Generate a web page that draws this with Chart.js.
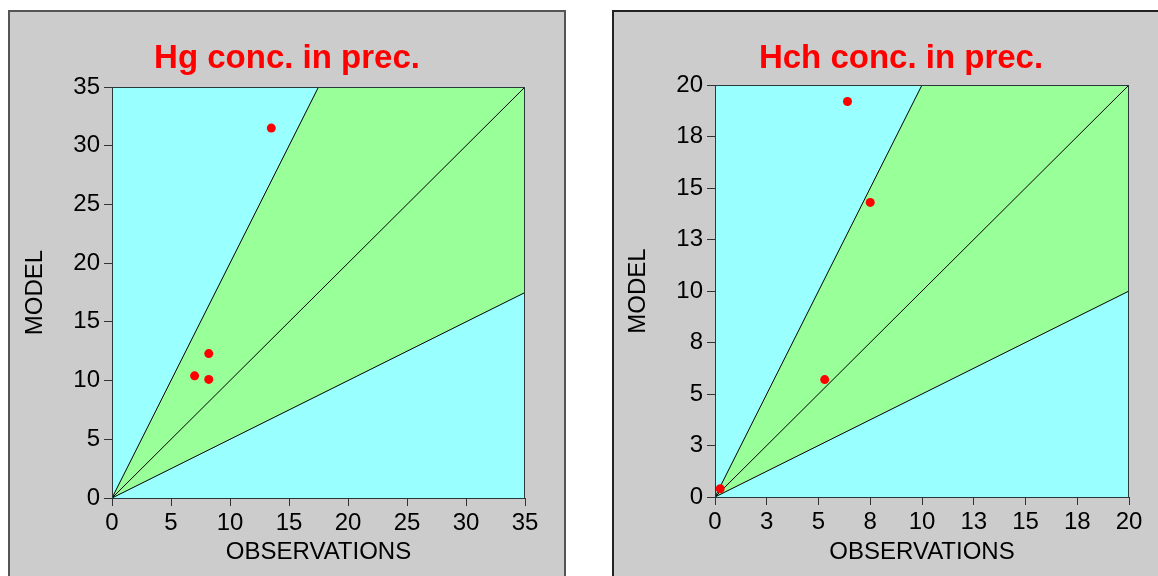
<!DOCTYPE html>
<html>
<head>
<meta charset="utf-8">
<script src="https://cdn.jsdelivr.net/npm/chart.js@4.4.0/dist/chart.umd.min.js"></script>
<style>
body { margin: 0; background: #fff; overflow: hidden; }
.panel { position: absolute; top: 10px; background: #cccccc; border: 2px solid #555; border-bottom: none; }
#p1 { left: 8px; width: 554px; height: 580px; }
#p2 { left: 612px; width: 574px; height: 580px; border-color: #222; }
canvas { display: block; }
</style>
</head>
<body>
<div class="panel" id="p1"><canvas id="hg" width="554" height="564"></canvas></div>
<div class="panel" id="p2"><canvas id="hch" width="574" height="564"></canvas></div>
<script>
// Hg panel
const hgObs = [13.5, 8.2, 7.0, 8.2];
const hgModel = [31.5, 12.3, 10.4, 10.1];
const hgTicks = ['0', '5', '10', '15', '20', '25', '30', '35'];
// Hch panel
const hchObs = [6.4, 7.5, 5.3, 0.25];
const hchModel = [19.2, 14.3, 5.7, 0.4];
const hchTicks = ['0', '3', '5', '8', '10', '13', '15', '18', '20'];

// factor-of-two lines and 1:1
const ratios = [2, 1, 0.5];

var font = "'Liberation Sans', Arial, sans-serif";

// line y = r*x from origin to the edge of a square plot of size max
function ratioLine(r, max) {
    if (r >= 1) return [{x: 0, y: 0}, {x: max / r, y: max}];
    return [{x: 0, y: 0}, {x: max, y: max * r}];
}

var frame = {
    id: 'frame',
    beforeDatasetsDraw: function(chart) {
        var a = chart.chartArea, ctx = chart.ctx;
        ctx.save();
        ctx.fillStyle = '#99ffff';
        ctx.fillRect(a.left, a.top, a.right - a.left, a.bottom - a.top);
        ctx.restore();
    },
    afterDatasetsDraw: function(chart) {
        var a = chart.chartArea, ctx = chart.ctx;
        ctx.save();
        ctx.strokeStyle = '#2a3a3a';
        ctx.lineWidth = 1;
        ctx.strokeRect(a.left + 0.5, a.top + 0.5, a.right - a.left - 1, a.bottom - a.top);
        ctx.restore();
    }
};

function makeChart(id, title, obs, model, max, step, labels, lay) {
    var top = ratioLine(ratios[0], max);
    top.push({x: max, y: max});
    var datasets = [{
        data: obs.map(function(v, i) { return {x: v, y: model[i]}; }),
        backgroundColor: '#ff0000',
        borderColor: '#ff0000',
        pointRadius: 4.5,
        pointBorderWidth: 0,
        showLine: false,
        order: 0
    }];
    ratios.forEach(function(r) {
        datasets.push({
            data: ratioLine(r, max),
            showLine: true,
            borderColor: '#000',
            borderWidth: 1,
            pointRadius: 0,
            order: 1
        });
    });
    // green band = area under upper line, then cyan over area under lower line
    datasets.push({
        data: ratioLine(ratios[2], max),
        showLine: true,
        borderWidth: 0,
        pointRadius: 0,
        fill: 'start',
        backgroundColor: '#99ffff',
        order: 2
    });
    datasets.push({
        data: top,
        showLine: true,
        borderWidth: 0,
        pointRadius: 0,
        fill: 'start',
        backgroundColor: '#99ff99',
        order: 3
    });

    return new Chart(id, {
        type: 'scatter',
        data: { datasets: datasets },
        plugins: [frame],
        options: {
            responsive: false,
            animation: false,
            events: [],
            // equal side padding keeps the title centred on the panel
            layout: { padding: { left: lay.side, right: lay.side, top: 0, bottom: 0 } },
            plugins: {
                legend: { display: false },
                tooltip: { enabled: false },
                title: {
                    display: true,
                    text: title,
                    color: '#ff0000',
                    font: { family: font, size: 33, weight: 'bold' },
                    padding: { top: 27, bottom: lay.titleBottom }
                }
            },
            scales: {
                x: {
                    type: 'linear',
                    min: 0, max: max,
                    afterFit: function(s) { s.height = lay.xHeight; },
                    ticks: {
                        stepSize: step,
                        color: '#000',
                        padding: 3,
                        maxRotation: 0,
                        font: { family: font, size: 24 },
                        callback: function(v, i) { return labels[i]; }
                    },
                    grid: { drawOnChartArea: false, tickLength: 8, tickColor: '#333' },
                    border: { display: false },
                    title: {
                        display: true,
                        text: 'OBSERVATIONS',
                        color: '#000',
                        font: { family: font, size: 24 },
                        padding: { top: 0, bottom: 9 }
                    }
                },
                y: {
                    type: 'linear',
                    min: 0, max: max,
                    afterFit: function(s) { s.width = lay.yWidth; },
                    ticks: {
                        stepSize: step,
                        color: '#000',
                        padding: 4,
                        font: { family: font, size: 24 },
                        callback: function(v, i) { return labels[i]; }
                    },
                    grid: { drawOnChartArea: false, tickLength: 8, tickColor: '#333' },
                    border: { display: false },
                    title: {
                        display: true,
                        text: 'MODEL',
                        color: '#000',
                        font: { family: font, size: 24 },
                        padding: { top: lay.yTitle, bottom: 0 }
                    }
                }
            }
        }
    });
}

makeChart('hg', 'Hg conc. in prec.', hgObs, hgModel, 35, 5, hgTicks,
    { side: 39, titleBottom: 8.4, xHeight: 78, yWidth: 63, yTitle: -28 });
makeChart('hch', 'Hch conc. in prec.', hchObs, hchModel, 20, 2.5, hchTicks,
    { side: 59, titleBottom: 6.4, xHeight: 79, yWidth: 42, yTitle: -49 });
</script>
</body>
</html>
